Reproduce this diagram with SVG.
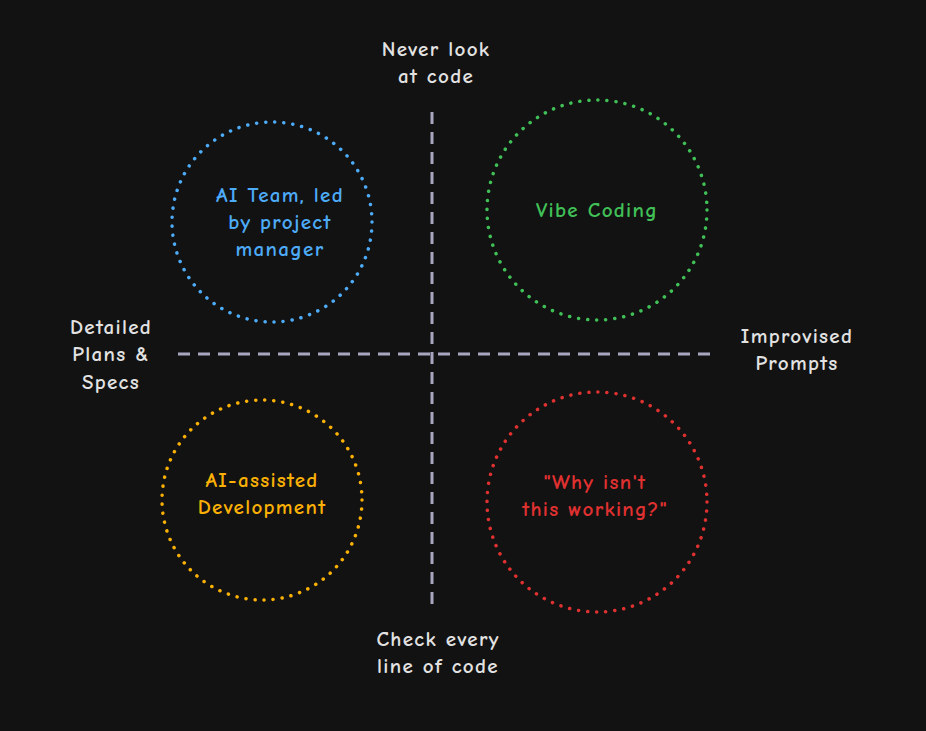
<svg xmlns="http://www.w3.org/2000/svg" width="926" height="731" viewBox="0 0 926 731">
<style>
text{font-family:"Comic Neue","Noto Sans","DejaVu Sans",sans-serif;font-weight:bold;font-size:21px;letter-spacing:1.3px;text-anchor:middle}
.lbl{fill:#e2e2e2}
.c{fill:none;stroke-width:3.5;stroke-dasharray:0.1 9;stroke-linecap:round}
.ax{stroke:#a8a5c0;stroke-width:3;stroke-dasharray:12 8;fill:none}
</style>
<rect width="926" height="731" fill="#121212"/>
<g id="connectors">
<line class="ax" x1="432" y1="112" x2="432" y2="612"/>
<line class="ax" x1="178" y1="354" x2="718" y2="354"/>
</g>
<g id="top-label"><text class="lbl" x="436" y="56">Never look</text><text class="lbl" x="436" y="83">at code</text></g>
<g id="bottom-label"><text class="lbl" x="438" y="646">Check every</text><text class="lbl" x="438" y="673">line of code</text></g>
<g id="left-label"><text class="lbl" x="111" y="334">Detailed</text><text class="lbl" x="111" y="361">Plans &amp;</text><text class="lbl" x="111" y="389">Specs</text></g>
<g id="right-label"><text class="lbl" x="797" y="343">Improvised</text><text class="lbl" x="797" y="370">Prompts</text></g>
<g id="ai-team"><circle class="c" cx="272" cy="222" r="100" stroke="#4dabf7"/>
<text fill="#4dabf7" x="280" y="202">AI Team, led</text><text fill="#4dabf7" x="280" y="229">by project</text><text fill="#4dabf7" x="280" y="256">manager</text></g>
<g id="vibe"><circle class="c" cx="597" cy="210" r="110" stroke="#40c057"/>
<text fill="#40c057" x="597" y="217">Vibe Coding</text></g>
<g id="ai-assisted"><circle class="c" cx="262" cy="500" r="100" stroke="#fab005"/>
<text fill="#fab005" x="262" y="487">AI-assisted</text><text fill="#fab005" x="262" y="514">Development</text></g>
<g id="why"><circle class="c" cx="597" cy="502" r="110" stroke="#e03131"/>
<text fill="#e03131" x="595" y="489">"Why isn't</text><text fill="#e03131" x="595" y="516">this working?"</text></g>
</svg>
